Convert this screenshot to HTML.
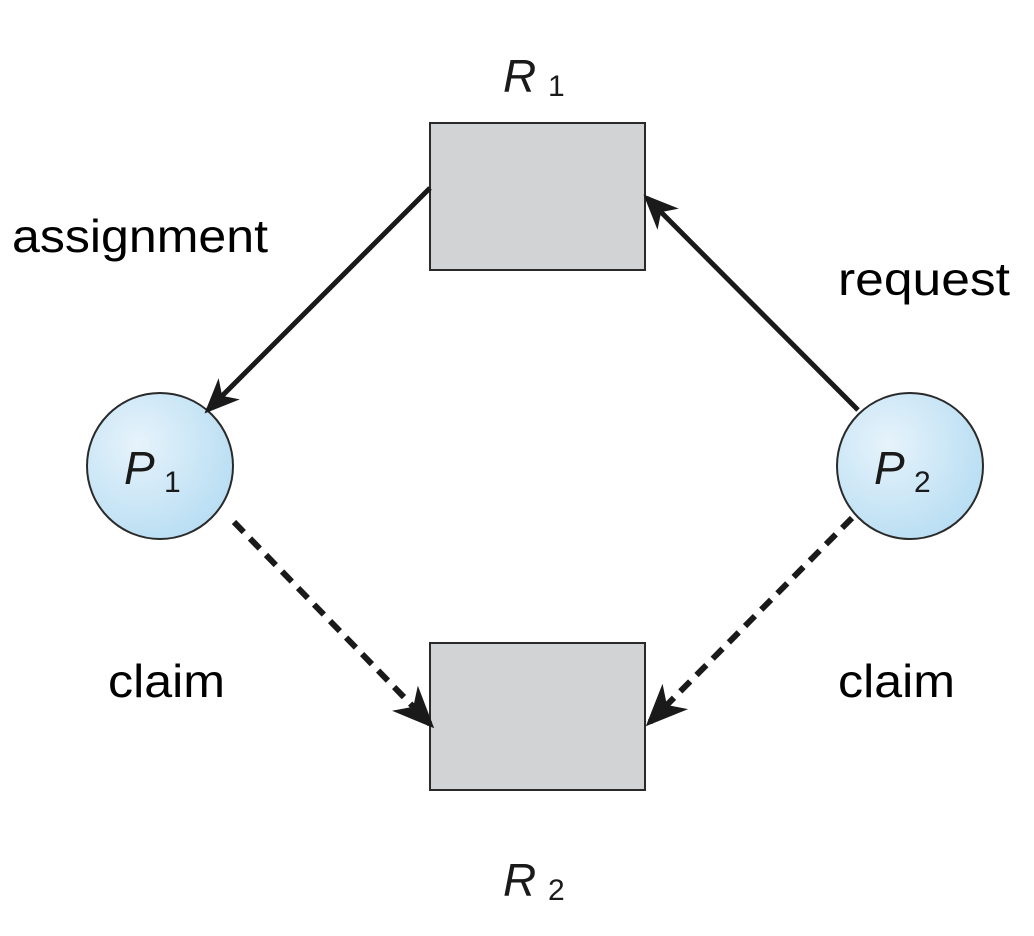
<!DOCTYPE html>
<html><head><style>
body{margin:0;background:#fff;}
svg{display:block;}
</style></head><body>
<svg width="1034" height="936" viewBox="0 0 1034 936" xmlns="http://www.w3.org/2000/svg">
<defs>
<marker id="ah" markerWidth="7" markerHeight="7" refX="6" refY="3.5" orient="auto" markerUnits="strokeWidth">
<path d="M0,0.5 L7,3.5 L0,6.5 L2,3.5 Z" fill="#1a1a1a"/>
</marker>
<radialGradient id="cg" cx="35%" cy="35%" r="70%">
<stop offset="0" stop-color="#e6f3fb"/><stop offset="1" stop-color="#b9def3"/>
</radialGradient>
</defs>
<rect x="430" y="123" width="215" height="147" fill="#d1d3d5" stroke="#2a2a2a" stroke-width="2"/>
<rect x="430" y="643" width="215" height="147" fill="#d1d3d5" stroke="#2a2a2a" stroke-width="2"/>
<circle cx="160" cy="466" r="73" fill="url(#cg)" stroke="#2a2a2a" stroke-width="2"/>
<circle cx="910" cy="466" r="73" fill="url(#cg)" stroke="#2a2a2a" stroke-width="2"/>
<line x1="430" y1="188" x2="208" y2="410" stroke="#1a1a1a" stroke-width="5" marker-end="url(#ah)"/>
<line x1="858" y1="410" x2="647" y2="198" stroke="#1a1a1a" stroke-width="5" marker-end="url(#ah)"/>
<line x1="234" y1="522" x2="430" y2="724" stroke="#1a1a1a" stroke-width="6" stroke-dasharray="14,9" marker-end="url(#ah)"/>
<line x1="852" y1="518" x2="650" y2="722" stroke="#1a1a1a" stroke-width="6" stroke-dasharray="14,9" marker-end="url(#ah)"/>
<g font-family="Liberation Sans, sans-serif" fill="#1a1a1a">
<text x="503" y="92" font-size="46" font-style="italic">R</text><text x="548" y="96" font-size="30">1</text>
<text x="503" y="896" font-size="46" font-style="italic">R</text><text x="548" y="900" font-size="30">2</text>
<text x="124" y="484" font-size="46" font-style="italic">P</text><text x="164" y="492" font-size="30">1</text>
<text x="874" y="484" font-size="46" font-style="italic">P</text><text x="914" y="492" font-size="30">2</text>
</g>
<g font-family="Liberation Sans, sans-serif" font-size="46" fill="#000">
<text x="12" y="252" textLength="256" lengthAdjust="spacingAndGlyphs">assignment</text>
<text x="838" y="295" textLength="172" lengthAdjust="spacingAndGlyphs">request</text>
<text x="108" y="697" textLength="117" lengthAdjust="spacingAndGlyphs">claim</text>
<text x="838" y="697" textLength="117" lengthAdjust="spacingAndGlyphs">claim</text>
</g>
</svg>
</body></html>
